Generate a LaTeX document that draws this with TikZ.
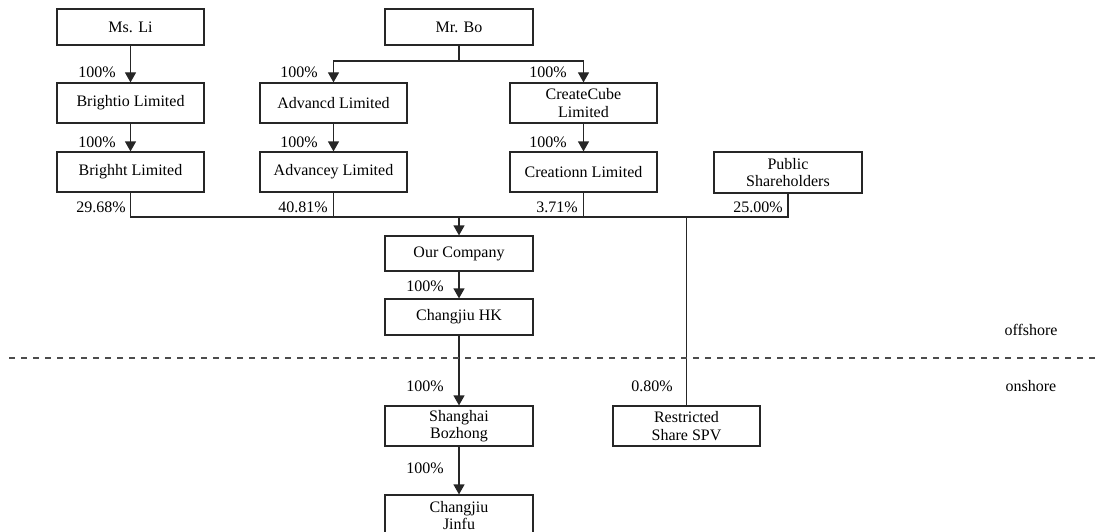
\documentclass[tikz,border=0pt]{standalone}
\usepackage{fontspec}
\setmainfont{Liberation Serif}
\usetikzlibrary{arrows.meta}
\begin{document}
\begin{tikzpicture}[x=1pt,y=-1pt,
  every node/.style={font=\fontsize{16}{17.5}\selectfont},
  box/.style={draw=black!85, line width=1.2pt, minimum width=147pt, inner sep=0pt, align=center},
  lab/.style={anchor=east, inner sep=0pt},
  conn/.style={draw=black!85, line width=1.2pt},
  arr/.style={conn, -{Triangle[width=11pt,length=10pt]}}]
\useasboundingbox (0,0) rectangle (1099,532);
% nodes
\node[box, minimum height=36pt] (msli) at (130.5,27) {Ms. Li};
\node[box, minimum height=40pt] (brightio) at (130.5,103) {Brightio Limited};
\node[box, minimum height=40pt] (brighht) at (130.5,172) {Brighht Limited};
\node[box, minimum height=36pt, minimum width=148pt] (mrbo) at (459,27) {Mr. Bo};
\node[box, minimum height=40pt] (advancd) at (333.5,103) {Advancd Limited};
\node[box, minimum height=40pt] (advancey) at (333.5,172) {Advancey Limited};
\node[box, minimum height=40pt] (createcube) at (583.5,103) {CreateCube\\Limited};
\node[box, minimum height=40pt] (creationn) at (583.5,172) {Creationn Limited};
\node[box, minimum height=41pt, minimum width=148pt] (public) at (788,172.5) {Public\\Shareholders};
\node[box, minimum height=35pt, minimum width=148pt] (ourco) at (459,253.5) {Our Company};
\node[box, minimum height=36pt, minimum width=148pt] (hk) at (459,317) {Changjiu HK};
\node[box, minimum height=40pt, minimum width=148pt] (bozhong) at (459,426) {Shanghai\\Bozhong};
\node[box, minimum height=40pt] (spv) at (686.5,426) {Restricted\\Share SPV};
\node[box, minimum height=41pt, minimum width=148pt] (jinfu) at (459,515.5) {Changjiu\\Jinfu};
\coordinate (bo) at (459,61);
\coordinate (join) at (459,217);
% connectors
\draw[arr] (msli) -- (brightio);
\draw[arr] (brightio) -- (brighht);
\draw[conn] (mrbo.south) -- (bo);
\draw[arr] (bo) -| (advancd.north);
\draw[arr] (bo) -| (createcube.north);
\draw[arr] (advancd) -- (advancey);
\draw[arr] (createcube) -- (creationn);
\draw[conn] (brighht.south) |- (join) -| (public.south);
\draw[conn] (advancey.south) -- (advancey.south |- join);
\draw[conn] (creationn.south) -- (creationn.south |- join);
\draw[arr] (join) -- (ourco.north);
\draw[conn] (spv.north |- join) -- (spv.north);
\draw[arr] (ourco) -- (hk);
\draw[arr] (hk) -- (bozhong);
\draw[arr] (bozhong) -- (jinfu);
% dashed divider
\draw[draw=black!70, line width=1.2pt, dash pattern=on 6pt off 6pt] (9,358) -- (1099,358);
% labels
\node[lab] (l1) at (116,72) {100\%};
\node[lab] (l2) at (116,142) {100\%};
\node[lab] (l3) at (126,207) {29.68\%};
\node[lab] (l4) at (318,72) {100\%};
\node[lab] (l5) at (318,142) {100\%};
\node[lab] (l6) at (328,207) {40.81\%};
\node[lab] (l7) at (567,72) {100\%};
\node[lab] (l8) at (567,142) {100\%};
\node[lab] (l9) at (578,207) {3.71\%};
\node[lab] (l10) at (783,207) {25.00\%};
\node[lab] (l11) at (444,286) {100\%};
\node[lab] (l12) at (444,386) {100\%};
\node[lab] (l13) at (444,468) {100\%};
\node[lab] (l14) at (673,386) {0.80\%};
\node (off) at (1031,330) {offshore};
\node (on) at (1031,386) {onshore};
\end{tikzpicture}
\end{document}
